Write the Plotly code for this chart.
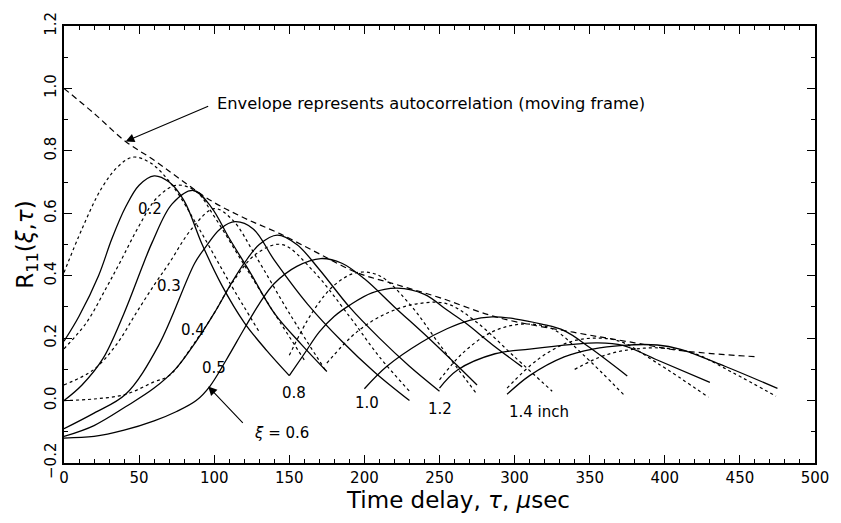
import plotly.graph_objects as go

# ---- Data (tau in microseconds, R11 values) ----
# Solid curves: separation xi (inch)
s02_x = [0, 10, 23, 32, 41, 50, 60, 70, 80, 92, 105, 120, 135, 150]
s02_y = [0.19, 0.27, 0.40, 0.52, 0.62, 0.69, 0.72, 0.70, 0.64, 0.50, 0.37, 0.25, 0.16, 0.08]

s03_x = [0, 12, 26, 40, 53, 59, 72, 86, 98, 110, 124, 140, 158, 175]
s03_y = [0.00, 0.05, 0.135, 0.28, 0.44, 0.51, 0.63, 0.673, 0.62, 0.52, 0.41, 0.28, 0.18, 0.093]

s04_x = [0, 20, 41, 63, 87, 94, 104, 114, 126, 140, 162, 185, 207, 230]
s04_y = [-0.09, -0.04, 0.02, 0.177, 0.44, 0.49, 0.55, 0.573, 0.55, 0.45, 0.31, 0.19, 0.09, 0.0]

s05_x = [0, 20, 41, 60, 74, 88, 100, 112, 120, 130, 142, 155, 170, 190, 210, 230, 250]
s05_y = [-0.115, -0.08, -0.02, 0.04, 0.10, 0.19, 0.28, 0.38, 0.44, 0.50, 0.53, 0.50, 0.42, 0.30, 0.20, 0.11, 0.03]

s06_x = [0, 20, 40, 60, 75, 88, 97, 108, 120, 130, 140, 155, 171, 185, 200, 220, 245, 275]
s06_y = [-0.12, -0.115, -0.095, -0.065, -0.035, 0.0, 0.045, 0.13, 0.23, 0.31, 0.375, 0.43, 0.455, 0.44, 0.39, 0.30, 0.19, 0.05]

s08_x = [150, 160, 170, 180, 190, 205, 222, 240, 255, 267, 285, 305]
s08_y = [0.08, 0.15, 0.22, 0.27, 0.305, 0.345, 0.36, 0.34, 0.29, 0.25, 0.18, 0.108]

s10_x = [200, 215, 238, 255, 270, 285, 300, 318, 333, 350, 375]
s10_y = [0.038, 0.11, 0.187, 0.23, 0.257, 0.268, 0.262, 0.245, 0.224, 0.17, 0.079]

s12_x = [250, 262, 287, 310, 339, 355, 372, 395, 430]
s12_y = [0.04, 0.098, 0.15, 0.165, 0.18, 0.185, 0.177, 0.13, 0.058]

s14_x = [295, 310, 333, 352, 372, 395, 410, 440, 475]
s14_y = [0.02, 0.08, 0.14, 0.165, 0.177, 0.178, 0.165, 0.11, 0.039]

# Dotted curves (intermediate separations)
d1_x = [0, 12, 25, 36, 46, 58, 72, 90, 110, 130]
d1_y = [0.41, 0.55, 0.68, 0.75, 0.78, 0.76, 0.69, 0.55, 0.38, 0.22]

d2_x = [0, 15, 28, 37, 50, 62, 75, 88, 100, 118, 140, 160]
d2_y = [0.166, 0.25, 0.36, 0.44, 0.56, 0.65, 0.69, 0.67, 0.59, 0.45, 0.28, 0.13]

d3_x = [0, 20, 35, 48, 60, 70, 85, 100, 112, 128, 150, 175]
d3_y = [0.05, 0.10, 0.18, 0.28, 0.37, 0.44, 0.55, 0.615, 0.58, 0.46, 0.28, 0.09]

d4_x = [0, 20, 41, 60, 70, 89, 100, 111, 128, 145, 165, 190, 210, 230]
d4_y = [0.0, 0.005, 0.02, 0.06, 0.08, 0.20, 0.28, 0.37, 0.47, 0.50, 0.42, 0.27, 0.14, 0.03]

d5_x = [150, 165, 180, 195, 210, 230, 250, 275]
d5_y = [0.145, 0.28, 0.37, 0.41, 0.40, 0.31, 0.18, 0.02]

d6_x = [175, 195, 215, 235, 255, 275, 300, 325]
d6_y = [0.12, 0.22, 0.28, 0.31, 0.31, 0.25, 0.14, 0.03]

d7_x = [250, 265, 285, 305, 325, 345, 373]
d7_y = [0.066, 0.15, 0.22, 0.245, 0.23, 0.15, 0.017]

d8_x = [295, 315, 335, 352, 370, 395, 429]
d8_y = [0.04, 0.13, 0.185, 0.20, 0.19, 0.12, 0.011]

d9_x = [340, 360, 380, 400, 420, 445, 474]
d9_y = [0.10, 0.145, 0.165, 0.168, 0.15, 0.09, 0.014]

# Envelope (dashed)
env_x = [0, 20, 41, 60, 76, 98, 120, 144, 170, 195, 221, 250, 289, 339, 380, 409, 462]
env_y = [1.0, 0.92, 0.83, 0.77, 0.714, 0.64, 0.585, 0.534, 0.47, 0.41, 0.372, 0.33, 0.266, 0.219, 0.185, 0.161, 0.14]

solid = [(s02_x, s02_y), (s03_x, s03_y), (s04_x, s04_y), (s05_x, s05_y), (s06_x, s06_y),
         (s08_x, s08_y), (s10_x, s10_y), (s12_x, s12_y), (s14_x, s14_y)]
dotted = [(d1_x, d1_y), (d2_x, d2_y), (d3_x, d3_y), (d4_x, d4_y), (d5_x, d5_y),
          (d6_x, d6_y), (d7_x, d7_y), (d8_x, d8_y), (d9_x, d9_y)]

FONT = "DejaVu Sans"
fig = go.Figure()

for xs, ys in dotted:
    fig.add_trace(go.Scatter(x=xs, y=ys, mode="lines", line=dict(color="black", width=1.2, dash="dot", shape="spline"),
                             showlegend=False, hoverinfo="skip"))
for xs, ys in solid:
    fig.add_trace(go.Scatter(x=xs, y=ys, mode="lines", line=dict(color="black", width=1.3, shape="spline"),
                             showlegend=False, hoverinfo="skip"))
fig.add_trace(go.Scatter(x=env_x, y=env_y, mode="lines", line=dict(color="black", width=1.2, dash="6px,4px", shape="spline"),
                         showlegend=False, hoverinfo="skip"))

# Curve labels
labels = [("0.2", 57, 0.615), ("0.3", 70, 0.367), ("0.4", 86, 0.225), ("0.5", 100, 0.105),
          ("0.8", 153, 0.024), ("1.0", 202, -0.008), ("1.2", 250.5, -0.028), ("1.4 inch", 316, -0.037)]
for t, x, y in labels:
    fig.add_annotation(x=x, y=y, text=t, showarrow=False, font=dict(family=FONT, size=15, color="black"))

fig.add_annotation(x=145, y=-0.105, text="<i>ξ</i> = 0.6", showarrow=False, font=dict(family=FONT, size=15, color="black"))
fig.add_annotation(x=96, y=0.045, ax=120, ay=-0.076, axref="x", ayref="y", xref="x", yref="y", text="",
                   showarrow=True, arrowhead=2, arrowsize=1.6, arrowwidth=1.1, arrowcolor="black")

fig.add_annotation(x=100.5, y=0.953, text="Envelope represents autocorrelation (moving frame)", showarrow=False,
                   xanchor="left", font=dict(family=FONT, size=16.3, color="black"))
fig.add_annotation(x=41, y=0.83, ax=97, ay=0.945, axref="x", ayref="y", xref="x", yref="y", text="",
                   showarrow=True, arrowhead=2, arrowsize=1.6, arrowwidth=1.1, arrowcolor="black")

# X-axis title (placed slightly right of centre as in the reference)
fig.add_annotation(xref="paper", yref="paper", x=0.524, y=-0.084, yanchor="middle", showarrow=False,
                   text="Time delay, <i>τ</i>, <i>μ</i>sec", font=dict(family=FONT, size=23, color="black"))

axis_common = dict(showline=True, linecolor="black", linewidth=2, mirror="allticks", ticks="inside",
                   tickcolor="black", tickwidth=1, ticklen=8, showgrid=False, zeroline=False,
                   tickfont=dict(family=FONT, size=15, color="black"))

fig.update_xaxes(range=[0, 500], dtick=50, tick0=0,
                 minor=dict(dtick=10, ticks="inside", ticklen=4, tickcolor="black", tickwidth=1, showgrid=False),
                 **axis_common)
fig.update_yaxes(range=[-0.2, 1.2], dtick=0.2, tick0=-0.2, tickformat=".1f", tickangle=-90,
                 minor=dict(dtick=0.1, ticks="inside", ticklen=4, tickcolor="black", tickwidth=1, showgrid=False),
                 title=dict(text="R<sub>11</sub>(<i>ξ</i>,<i>τ</i>)", font=dict(family=FONT, size=23, color="black"), standoff=2),
                 **axis_common)

fig.update_layout(width=841, height=523, margin=dict(l=64, r=17, t=21, b=60),
                  plot_bgcolor="white", paper_bgcolor="white", showlegend=False)

fig.write_html("out.html")
